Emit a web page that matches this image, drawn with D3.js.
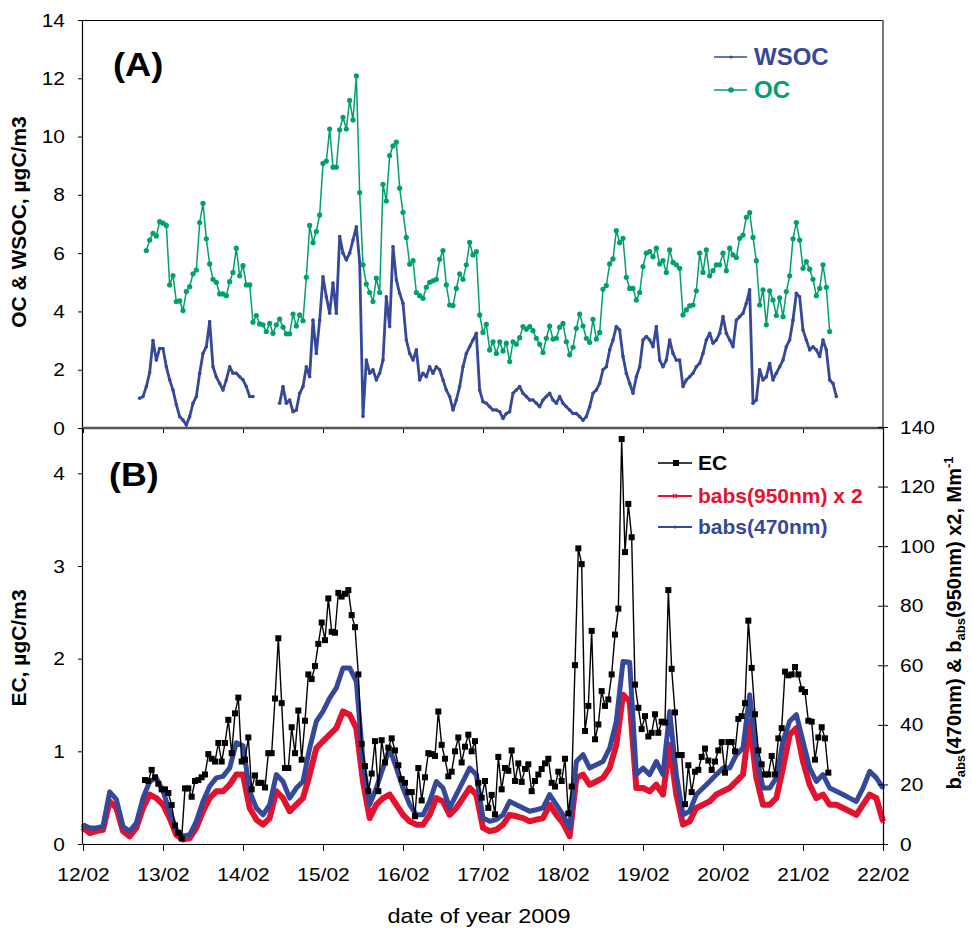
<!DOCTYPE html>
<html>
<head>
<meta charset="utf-8">
<script src="https://cdn.jsdelivr.net/npm/d3@7"></script>
<style>
  body { margin: 0; background: #fff; }
  svg { font-family: "Liberation Sans", Arial, sans-serif; }
</style>
</head>
<body>
<svg id="chart" width="972" height="931"></svg>
<script>
// ---- data ----
// hours are counted from 12/02/2009 00:00
const dayLabels = ["12/02","13/02","14/02","15/02","16/02","17/02","18/02","19/02","20/02","21/02","22/02"];
const ticksA = [0, 2, 4, 6, 8, 10, 12, 14];
const ticksB = [0, 1, 2, 3, 4];
const ticksBabs = [0, 20, 40, 60, 80, 100, 120, 140];

// OC, hourly, µgC/m3
const ocStartHour = 19;
const ocValues = [
  6.09,6.45,6.68,6.59,7.08,7.03,6.95,4.91,5.23,4.34,
  4.36,4.03,4.68,4.85,5.29,5.42,7.05,7.71,6.49,5.63,
  5.10,5.0,4.6,4.6,4.54,5.02,5.34,6.17,5.22,5.57,
  4.91,4.91,3.63,3.86,3.57,3.54,3.31,3.59,3.25,3.54,
  3.74,3.46,3.23,3.23,3.91,3.5,3.88,3.68,5.17,6.95,
  6.36,6.74,7.31,9.08,9.16,10.26,8.95,8.95,10.23,10.66,
  10.26,11.24,10.57,12.08,8.08,5.6,4.94,4.65,4.34,5.14,
  4.65,8.36,7.79,9.35,9.68,9.81,8.23,7.4,6.54,5.62,
  5.74,4.65,4.54,4.45,4.83,5.0,5.05,5.1,5.79,6.09,
  4.91,4.22,4.2,4.79,5.29,5.1,5.6,6.37,5.94,6.05,
  3.88,3.28,3.56,2.68,2.96,2.56,2.96,2.64,2.91,2.28,
  2.96,2.87,3.1,3.48,3.39,3.48,3.34,3.08,2.87,2.59,
  3.08,3.5,3.05,3.08,3.46,3.59,2.96,2.51,2.77,3.42,
  3.91,3.5,3.08,2.94,3.73,3.05,3.28,4.76,4.89,5.63,
  5.8,6.77,6.36,6.51,5.17,4.79,4.79,4.39,4.65,5.54,
  6.0,6.05,5.88,6.17,5.63,5.74,5.34,6.11,5.68,5.6,
  5.48,3.88,4.05,4.19,4.22,4.71,6.0,5.34,6.11,5.22,
  5.4,5.6,5.6,6.0,5.4,6.17,5.94,5.85,6.51,6.62,
  7.23,7.39,6.54,5.74,4.22,4.74,3.54,4.71,4.39,3.86,
  4.47,3.82,4.68,5.22,6.49,7.05,6.45,5.48,5.71,5.45,
  5.1,4.54,4.79,5.6,4.83,3.31
];

// WSOC, hourly, µgC/m3 (null = no data)
const wsocStartHour = 17;
const wsocValues = [
  1.02,1.08,1.42,1.9,3.0,2.33,2.73,2.73,2.1,1.65,
  1.3,0.8,0.39,0.27,0.1,0.39,0.85,1.08,1.88,2.56,
  2.79,3.65,2.1,1.75,1.53,1.3,1.65,2.1,1.88,1.88,
  1.76,1.65,1.42,1.08,1.08,null,null,null,null,null,
  null,null,0.85,1.42,0.85,0.96,0.56,0.62,1.19,1.42,
  2.1,1.76,3.7,2.56,3.7,5.19,4.5,3.94,4.97,3.94,
  6.57,6.0,5.77,6.0,6.45,6.9,5.7,0.4,2.33,1.88,
  2.0,1.65,1.88,2.33,4.5,3.48,6.22,5.08,4.62,4.28,
  3.02,2.56,2.33,2.68,1.65,1.88,1.76,2.1,1.88,2.1,
  2.0,1.65,1.3,1.08,0.62,0.96,1.42,2.1,2.56,2.79,
  3.02,3.25,1.3,0.9,0.85,0.73,0.62,0.62,0.56,0.33,
  0.5,0.56,1.19,1.3,1.42,1.19,1.08,0.96,0.96,0.85,
  0.73,0.96,1.08,1.19,0.96,0.85,1.08,0.85,0.73,0.62,
  0.5,0.5,0.39,0.27,0.39,0.73,1.19,1.3,1.53,2.0,
  2.1,2.68,3.02,3.48,3.36,2.45,1.88,1.53,1.19,1.76,
  2.1,3.02,3.14,3.02,2.79,3.48,2.33,2.1,2.33,3.02,
  2.56,2.33,2.33,1.42,1.65,1.76,1.88,2.1,2.22,2.56,
  3.02,3.25,2.91,3.02,3.25,3.82,3.25,3.02,2.79,3.7,
  3.82,3.94,4.28,4.74,0.85,0.96,2.0,1.65,1.76,2.22,
  1.65,1.88,2.1,2.33,2.79,3.02,3.7,4.62,4.5,3.36,
  3.02,2.68,2.79,2.68,2.45,3.02,2.68,1.65,1.53,1.08
];

// EC, hourly, µgC/m3
const ecStartHour = 18.6;
const ecValues = [
  0.69,0.68,0.80,0.72,0.65,0.59,0.59,0.55,0.42,0.20,
  0.12,0.06,0.60,0.60,0.51,0.68,0.69,0.72,0.75,0.97,
  0.92,0.89,1.09,0.89,1.09,1.34,0.98,1.41,1.58,0.89,
  0.91,1.15,0.59,0.74,0.66,0.66,0.61,0.98,0.98,1.57,
  2.22,1.52,0.82,0.82,1.26,0.98,1.44,0.91,1.33,1.83,
  1.78,1.92,2.16,2.39,2.2,2.65,2.29,2.28,2.71,2.67,
  2.70,2.74,2.47,2.34,1.83,1.08,0.84,0.57,0.76,1.11,
  0.57,1.12,0.88,1.04,1.14,1.01,0.85,0.70,0.66,0.56,
  0.56,0.30,0.82,0.47,0.72,0.98,0.97,0.95,1.43,1.07,
  0.92,0.73,0.78,1.0,1.15,0.88,1.05,1.18,1.0,1.11,
  0.66,0.5,0.68,0.39,0.53,0.32,0.94,0.59,0.82,0.79,
  1.01,0.68,0.87,0.67,0.81,0.86,0.57,0.68,0.75,0.81,
  0.87,0.92,0.66,0.62,0.78,0.68,0.92,0.33,0.62,1.93,
  3.19,3.02,1.22,1.49,2.3,1.13,1.29,1.65,1.49,1.56,
  1.83,2.26,2.54,4.37,3.15,3.67,3.31,1.72,1.47,1.24,
  1.38,1.16,1.2,1.4,1.2,1.32,1.31,2.74,1.89,1.42,
  0.96,0.96,0.43,0.85,0.56,0.78,0.8,0.94,1.03,0.9,
  0.8,0.89,1.01,1.1,0.77,1.1,1.1,1.0,1.35,1.38,
  1.52,2.41,1.9,1.4,1.01,0.86,0.75,0.75,0.95,0.75,
  1.14,1.25,1.86,1.82,1.83,1.91,1.83,1.67,1.64,1.33,
  1.32,0.91,1.15,1.26,1.14,0.77
];

// absorption coefficients, every 2 h from 12/02 00:00, Mm-1
const babsStartHour = 0;
const babsStepHours = 2;
const babs470 = [
  6.5,5.4,5.4,5.9,17.5,15.0,5.9,4.3,7.0,15.4,
  21.0,22.2,17.7,11.0,4.8,2.6,3.1,7.6,14.3,19.4,
  22.2,22.7,25.5,34.0,33.0,17.7,12.1,9.8,13.2,23.3,
  21.0,15.4,18.8,21.0,32.2,41.2,44.5,49.0,52.4,59.1,
  59.1,54.6,27.7,13.2,18.8,25.5,32.2,25.5,18.8,13.2,
  9.8,9.8,14.3,21.0,18.8,12.1,16.6,21.0,25.5,23.3,
  8.7,7.6,8.2,9.8,14.3,13.2,12.1,11.0,11.5,12.1,
  16.6,13.2,9.8,5.4,27.7,30.0,25.5,26.6,27.7,32.2,
  41.2,61.3,61.0,23.3,25.5,23.3,27.7,23.3,44.5,23.3,
  9.8,11.0,16.6,18.8,21.0,23.3,25.5,25.5,30.0,32.2,
  50.1,30.0,18.8,18.8,22.2,34.5,41.2,43.4,34.5,25.5,
  21.0,23.3,18.8,17.7,16.6,15.4,14.3,18.8,24.4,22.2,
  18.8
];
const babs950x2 = [
  5.4,3.7,4.3,4.8,14.3,12.1,4.3,2.6,5.4,12.1,
  16.6,15.4,13.2,8.7,3.1,1.5,2.0,5.4,11.0,15.4,
  17.7,17.7,19.9,23.3,23.3,12.1,8.2,6.5,8.7,17.7,
  15.4,11.0,13.2,15.4,23.3,32.2,34.5,36.7,38.9,44.5,
  43.4,38.9,21.0,8.7,13.2,15.4,16.6,13.2,9.8,7.6,
  6.5,6.5,9.8,15.4,14.3,9.8,12.1,15.4,18.8,16.6,
  5.4,4.3,4.8,6.5,9.8,9.3,8.7,7.6,8.2,8.7,
  13.2,9.8,7.0,2.6,22.2,23.3,19.9,21.0,22.2,25.5,
  33.3,50.1,47.9,18.8,18.8,17.7,19.9,16.6,33.3,16.6,
  6.5,7.6,12.1,13.2,14.3,16.6,17.7,18.8,21.0,23.3,
  41.2,22.2,13.2,13.2,15.4,25.5,36.7,38.9,27.7,19.9,
  15.4,16.6,13.2,13.2,12.1,11.0,9.8,13.2,16.6,15.4,
  7.6
];

// ---- colours ----
const cBlue = "#35489a";
const cGreen = "#00a06b";
const cRed = "#e3122f";

const svg = d3.select("#chart");
const t0 = new Date(2009, 1, 12);
const atHour = h => new Date(t0.getTime() + h * 3600000);
const series = (start, step, vals) => vals.map((v, i) => ({ t: atHour(start + i * step), v: v }));

const oc = series(ocStartHour, 1, ocValues);
const wsoc = series(wsocStartHour, 1, wsocValues);
const ec = series(ecStartHour, 1, ecValues);
const b470 = series(babsStartHour, babsStepHours, babs470);
const b950 = series(babsStartHour, babsStepHours, babs950x2);

// scales
const x = d3.scaleTime().domain([t0, d3.timeDay.offset(t0, 10)]).range([83, 883]);
const yA = d3.scaleLinear().domain([0, 14]).range([428, 20]);
const yB = d3.scaleLinear().domain([0, 4.5]).range([844, 427]);
const yR = d3.scaleLinear().domain([0, 140]).range([844, 427]);
const dayTicks = dayLabels.map((_, i) => d3.timeDay.offset(t0, i));

const tickFont = g => g.selectAll("text")
  .attr("font-size", 19)
  .attr("fill", "#000")
  .attr("font-family", "'Liberation Sans', Arial, sans-serif");

// ---------- panel A ----------
const lineA = d3.line().defined(d => d.v != null).x(d => x(d.t)).y(d => yA(d.v));

svg.append("path").datum(wsoc)
  .attr("d", lineA).attr("fill", "none")
  .attr("stroke", cBlue).attr("stroke-width", 2.8).attr("stroke-linejoin", "round");
svg.append("g").selectAll("circle").data(wsoc.filter(d => d.v != null)).join("circle")
  .attr("cx", d => x(d.t)).attr("cy", d => yA(d.v)).attr("r", 1.8).attr("fill", cBlue);

svg.append("path").datum(oc)
  .attr("d", lineA).attr("fill", "none")
  .attr("stroke", cGreen).attr("stroke-width", 1.5);
svg.append("g").selectAll("circle").data(oc).join("circle")
  .attr("cx", d => x(d.t)).attr("cy", d => yA(d.v)).attr("r", 2.6).attr("fill", cGreen);

// frame of panel A
svg.append("line").attr("x1", 82).attr("x2", 884).attr("y1", 20.5).attr("y2", 20.5)
  .attr("stroke", "#000").attr("stroke-width", 1.2);
svg.append("line").attr("x1", 883).attr("x2", 883).attr("y1", 20).attr("y2", 428)
  .attr("stroke", "#777").attr("stroke-width", 2);

const axA = svg.append("g").attr("transform", "translate(82,0)")
  .call(d3.axisLeft(yA).tickValues(ticksA).tickSize(4).tickSizeOuter(0).tickPadding(11.5));
axA.call(tickFont);
axA.selectAll("text").attr("transform", "scale(1.1,1)");

// small day ticks under panel A
const axAx = svg.append("g").attr("transform", "translate(0,428)")
  .call(d3.axisBottom(x).tickValues(dayTicks).tickSize(5).tickSizeOuter(0).tickFormat(""));
axAx.select(".domain").remove();
svg.append("line").attr("x1", 82).attr("x2", 884).attr("y1", 428).attr("y2", 428)
  .attr("stroke", "#555").attr("stroke-width", 2.6);

// ---------- panel B ----------
const lineB = d3.line().x(d => x(d.t)).y(d => yR(d.v));

svg.append("path").datum(b950)
  .attr("d", lineB).attr("fill", "none")
  .attr("stroke", cRed).attr("stroke-width", 6).attr("stroke-linejoin", "round");
svg.append("g").selectAll("path").data(b950).join("path")
  .attr("d", d => {
    const cx = x(d.t), cy = yR(d.v);
    return `M${cx-2},${cy-2}L${cx+2},${cy+2}M${cx-2},${cy+2}L${cx+2},${cy-2}`;
  })
  .attr("stroke", cRed).attr("stroke-width", 1.2);

svg.append("path").datum(b470)
  .attr("d", lineB).attr("fill", "none")
  .attr("stroke", cBlue).attr("stroke-width", 5).attr("stroke-linejoin", "round");
svg.append("g").selectAll("circle").data(b470).join("circle")
  .attr("cx", d => x(d.t)).attr("cy", d => yR(d.v)).attr("r", 1.6).attr("fill", cBlue);

const lineEC = d3.line().x(d => x(d.t)).y(d => yB(d.v));
svg.append("path").datum(ec)
  .attr("d", lineEC).attr("fill", "none")
  .attr("stroke", "#000").attr("stroke-width", 1.4);
svg.append("g").selectAll("rect").data(ec).join("rect")
  .attr("x", d => x(d.t) - 3).attr("y", d => yB(d.v) - 3)
  .attr("width", 6).attr("height", 6).attr("fill", "#000");

const axB = svg.append("g").attr("transform", "translate(82,0)")
  .call(d3.axisLeft(yB).tickValues(ticksB).tickFormat(d3.format("d"))
    .tickSize(4).tickSizeOuter(0).tickPadding(11.5));
axB.call(tickFont);
axB.selectAll("text").attr("transform", "scale(1.1,1)");

const axR = svg.append("g").attr("transform", "translate(883,0)")
  .call(d3.axisRight(yR).tickValues(ticksBabs).tickSize(5).tickSizeOuter(0).tickPadding(10.5));
axR.selectAll(".tick line").attr("x1", -5);
axR.call(tickFont);
axR.selectAll("text").attr("transform", "scale(1.1,1)");

const axX = svg.append("g").attr("transform", "translate(0,844)")
  .call(d3.axisBottom(x).tickValues(dayTicks).tickSize(7).tickSizeOuter(0).tickPadding(17)
    .tickFormat((d, i) => dayLabels[i]));
axX.call(tickFont);
axX.selectAll("text").attr("transform", "scale(1.1,1)");
svg.selectAll(".domain").attr("stroke", "#000").attr("stroke-width", 1.2);

// ---------- titles ----------
svg.append("text").attr("transform", "translate(26,222) rotate(-90)")
  .attr("text-anchor", "middle").attr("font-weight", "bold").attr("font-size", 21)
  .text("OC & WSOC, µgC/m3");
svg.append("text").attr("transform", "translate(26,648) rotate(-90)")
  .attr("text-anchor", "middle").attr("font-weight", "bold").attr("font-size", 21)
  .text("EC, µgC/m3");

const rt = svg.append("text").attr("transform", "translate(961,623) rotate(-90)")
  .attr("text-anchor", "middle").attr("font-weight", "bold").attr("font-size", 20);
rt.append("tspan").text("b");
rt.append("tspan").attr("font-size", 13).attr("dy", 4).text("abs");
rt.append("tspan").attr("dy", -4).text("(470nm) & b");
rt.append("tspan").attr("font-size", 13).attr("dy", 4).text("abs");
rt.append("tspan").attr("dy", -4).text("(950nm) x2, Mm");
rt.append("tspan").attr("font-size", 13).attr("dy", -8).text("-1");

svg.append("text").attr("transform", "translate(479,923) scale(1.12,1)")
  .attr("text-anchor", "middle").attr("font-size", 21).text("date of year 2009");

svg.append("text").attr("transform", "translate(113,76) scale(1.1,1)")
  .attr("font-weight", "bold").attr("font-size", 33).text("(A)");
svg.append("text").attr("transform", "translate(109,486) scale(1.05,1)")
  .attr("font-weight", "bold").attr("font-size", 34).text("(B)");

// ---------- legends ----------
const legA = [
  { name: "WSOC", color: cBlue, y: 57, r: 1.5 },
  { name: "OC", color: cGreen, y: 90, r: 2.8 }
];
legA.forEach(d => {
  svg.append("line").attr("x1", 714).attr("x2", 747).attr("y1", d.y).attr("y2", d.y)
    .attr("stroke", d.color).attr("stroke-width", 1.6);
  svg.append("circle").attr("cx", 731).attr("cy", d.y).attr("r", d.r).attr("fill", d.color);
  svg.append("text").attr("x", 754).attr("y", d.y + 8).attr("font-size", 24)
    .attr("font-weight", "bold").attr("fill", d.color).text(d.name);
});

const legB = [
  { name: "EC", color: "#000", y: 463 },
  { name: "babs(950nm) x 2", color: cRed, y: 496 },
  { name: "babs(470nm)", color: cBlue, y: 527 }
];
legB.forEach((d, i) => {
  svg.append("line").attr("x1", 658).attr("x2", 692).attr("y1", d.y).attr("y2", d.y)
    .attr("stroke", d.color).attr("stroke-width", i === 0 ? 1.4 : 1.8);
  if (i === 0) {
    svg.append("rect").attr("x", 673).attr("y", d.y - 3).attr("width", 6).attr("height", 6).attr("fill", "#000");
  } else if (i === 1) {
    svg.append("path").attr("d", `M${673},${d.y-2}L${677},${d.y+2}M${673},${d.y+2}L${677},${d.y-2}`)
      .attr("stroke", cRed).attr("stroke-width", 1.2);
  } else {
    svg.append("circle").attr("cx", 675).attr("cy", d.y).attr("r", 1.5).attr("fill", cBlue);
  }
  svg.append("text").attr("x", 698).attr("y", d.y + 7).attr("font-size", 21)
    .attr("font-weight", "bold").attr("fill", d.color).text(d.name);
});
</script>
</body>
</html>
